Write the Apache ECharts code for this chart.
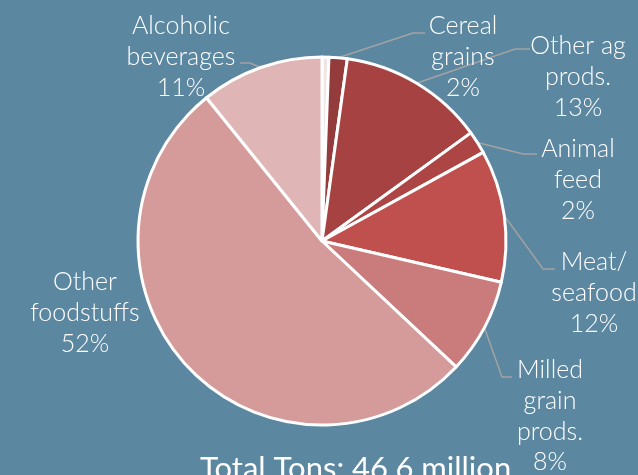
<!DOCTYPE html>
<html>
<head>
<meta charset="utf-8">
<script src="https://cdn.jsdelivr.net/npm/echarts@6/dist/echarts.min.js"></script>
<style>
html,body{margin:0;padding:0;background:#5c87a1;}
#chart{width:638px;height:475px;}
</style>
</head>
<body>
<div id="chart"></div>
<script>
// Data (clockwise from 12 o'clock)
const categories = ['', 'Cereal\ngrains', 'Other ag\nprods.', 'Animal\nfeed', 'Meat/\nseafood', 'Milled\ngrain\nprods.', 'Other\nfoodstuffs', 'Alcoholic\nbeverages'];
const values = [0.6, 1.6, 12.8, 2.0, 11.6, 8.4, 52.2, 10.8];
const colors = ['#f1e4e4', '#943b3b', '#a64241', '#ad4544', '#c0504d', '#ca7b7b', '#d49b9a', '#dfb6b5'];
const titleText = 'Total Tons: 46.6 million';

// Label layout: [centerX, firstLineCenterY, elbow, end]
const labelPlacement = [
  null,
  [463, 26, [413, 33], [425, 33]],
  [578, 46, [515, 49], [530, 49]],
  [578, 149, [523, 154], [537, 154]],
  [594, 262, [543, 269], [555, 269]],
  [550, 370, [502, 377], [512, 377]],
  [85, 282, null, null],
  [181, 26, [250, 63], [240, 63]]
];

const LH = 30.8;
const chart = echarts.init(document.getElementById('chart'));
const data = values.map((v, i) => {
  const d = { value: v, name: categories[i], itemStyle: { color: colors[i] } };
  if (i === 0) { d.label = { show: false }; d.labelLine = { show: false }; }
  if (i === 6) { d.labelLine = { show: false }; }
  return d;
});

chart.setOption({
  backgroundColor: '#5c87a1',
  animation: false,
  title: {
    text: titleText,
    left: 195,
    top: 448,
    textStyle: { color: '#ffffff', fontFamily: 'Lato', fontWeight: 'normal', fontSize: 31 }
  },
  series: [{
    type: 'pie',
    center: [322, 241],
    radius: 184,
    startAngle: 90,
    clockwise: true,
    avoidLabelOverlap: false,
    itemStyle: { borderColor: '#ffffff', borderWidth: 3 },
    label: {
      show: true,
      position: 'outside',
      color: '#ffffff',
      fontFamily: 'Lato',
      fontWeight: 300,
      fontSize: 25,
      lineHeight: LH,
      align: 'center',
      formatter: p => p.name + '\n' + Math.round(p.value) + '%'
    },
    labelLine: { show: true, length: 10, length2: 10, lineStyle: { color: '#a3a3a3', width: 1.5 } },
    labelLayout: function (params) {
      const L = labelPlacement[params.dataIndex];
      if (!L) return {};
      const res = { x: L[0], y: L[1] - LH / 2, align: 'center', verticalAlign: 'top' };
      if (L[2] && params.labelLinePoints) {
        res.labelLinePoints = [params.labelLinePoints[0], L[2], L[3]];
      }
      return res;
    },
    data: data
  }]
});
</script>
</body>
</html>
